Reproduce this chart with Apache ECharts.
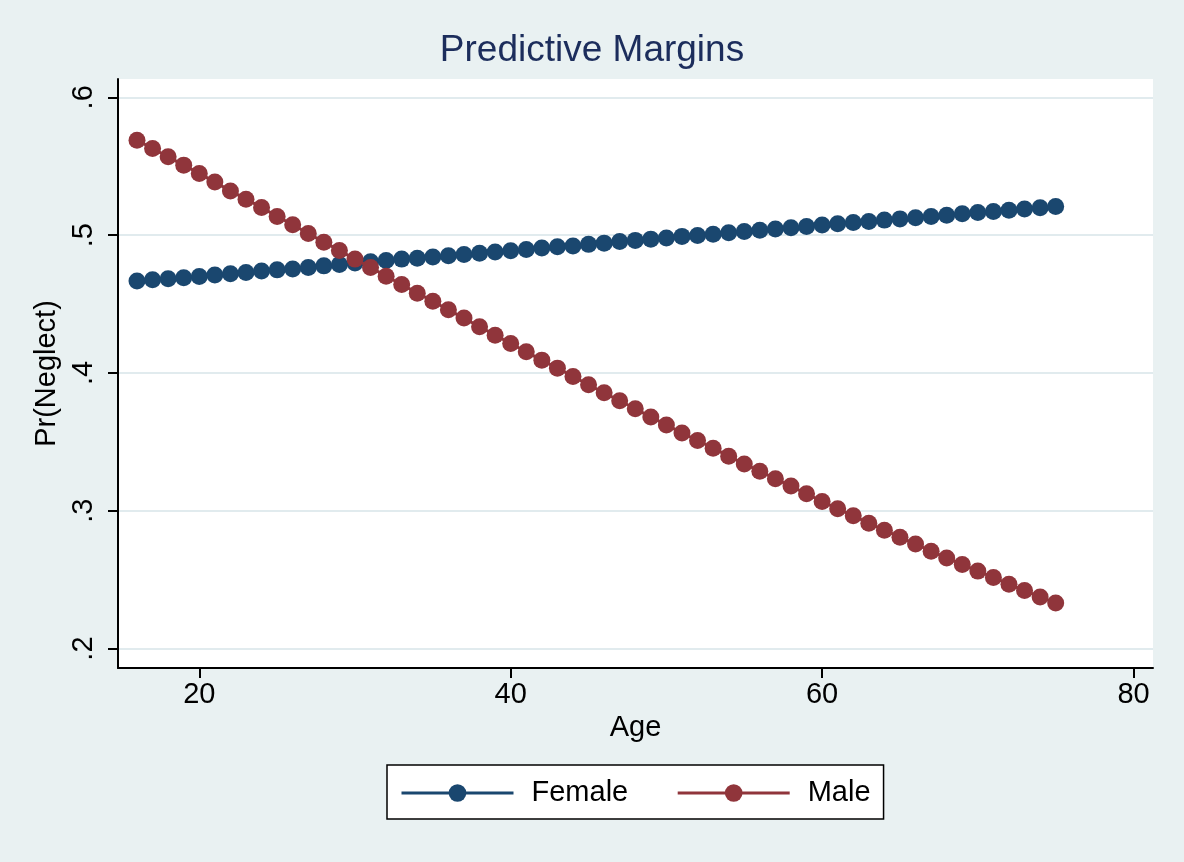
<!DOCTYPE html>
<html>
<head>
<meta charset="utf-8">
<script src="https://cdn.jsdelivr.net/npm/echarts@6/dist/echarts.min.js"></script>
<style>
html,body{margin:0;padding:0;background:#e9f1f2;}
#chart{width:1184px;height:862px;}
</style>
</head>
<body>
<div id="chart"></div>
<script>
const ages = [16,17,18,19,20,21,22,23,24,25,26,27,28,29,30,31,32,33,34,35,
  36,37,38,39,40,41,42,43,44,45,46,47,48,49,50,51,52,53,54,55,
  56,57,58,59,60,61,62,63,64,65,66,67,68,69,70,71,72,73,74,75];

const female = [0.4668,0.4676,0.4683,0.4690,0.4700,0.4710,0.4719,0.4729,0.4739,0.4748,
  0.4755,0.4766,0.4777,0.4787,0.4797,0.4806,0.4816,0.4826,0.4833,0.4841,
  0.4850,0.4860,0.4869,0.4877,0.4886,0.4896,0.4906,0.4915,0.4922,0.4933,
  0.4942,0.4954,0.4962,0.4971,0.4980,0.4991,0.4998,0.5007,0.5017,0.5026,
  0.5036,0.5044,0.5053,0.5063,0.5073,0.5082,0.5092,0.5099,0.5109,0.5118,
  0.5126,0.5136,0.5145,0.5155,0.5165,0.5172,0.5181,0.5189,0.5198,0.5208];

const male = [0.5689,0.5629,0.5568,0.5508,0.5448,0.5385,0.5321,0.5261,0.5201,0.5136,
  0.5075,0.5012,0.4949,0.4889,0.4826,0.4766,0.4702,0.4642,0.4579,0.4520,
  0.4458,0.4398,0.4335,0.4274,0.4214,0.4153,0.4093,0.4035,0.3975,0.3914,
  0.3856,0.3798,0.3740,0.3681,0.3623,0.3565,0.3510,0.3454,0.3396,0.3340,
  0.3287,0.3232,0.3179,0.3123,0.3068,0.3014,0.2963,0.2910,0.2859,0.2808,
  0.2758,0.2707,0.2658,0.2610,0.2562,0.2516,0.2467,0.2421,0.2375,0.2330];

const xTicks = [20,40,60,80];
const yTicks = [0.2,0.3,0.4,0.5,0.6];
const yTickLabels = ['.2','.3','.4','.5','.6'];

const FONT = "'Liberation Sans', Arial, Helvetica, sans-serif";
const chart = echarts.init(document.getElementById('chart'));
chart.setOption({
  backgroundColor: '#e9f1f2',
  animation: false,
  title: {
    text: 'Predictive Margins',
    left: 'center',
    top: 27,
    textStyle: {fontFamily: FONT, fontSize: 37, fontWeight: 'normal', color: '#1c2d5c'}
  },
  grid: {left: 118, right: 31, top: 79, bottom: 194, show: true, backgroundColor: '#ffffff', borderWidth: 0},
  legend: {
    left: 387, top: 765,
    padding: [13, 13, 11, 13],
    backgroundColor: '#ffffff',
    borderColor: '#000000', borderWidth: 1.5, borderRadius: 0,
    itemWidth: 112, itemHeight: 22, itemGap: 48,
    lineStyle: {width: 3},
    textStyle: {fontFamily: FONT, fontSize: 29, color: '#000', lineHeight: 30, padding: [0,0,0,13]},
    data: ['Female','Male']
  },
  xAxis: {
    type: 'value', min: 14.78, max: 81.25,
    name: 'Age', nameLocation: 'middle', nameGap: 44,
    nameTextStyle: {fontFamily: FONT, fontSize: 29, color: '#000'},
    axisLine: {show: true, onZero: false, lineStyle: {color: '#000', width: 2}},
    axisTick: {show: true, length: 10, lineStyle: {color: '#000', width: 2}, customValues: xTicks},
    axisLabel: {fontFamily: FONT, fontSize: 29, color: '#000', margin: 12, customValues: xTicks},
    splitLine: {show: false}
  },
  yAxis: {
    type: 'value', min: 0.1859, max: 0.6133,
    name: 'Pr(Neglect)', nameLocation: 'middle', nameGap: 33, nameRotate: 90,
    nameTextStyle: {fontFamily: FONT, fontSize: 29, color: '#000'},
    axisLine: {show: true, onZero: false, lineStyle: {color: '#000', width: 2}},
    axisTick: {show: true, length: 10, lineStyle: {color: '#000', width: 2}, customValues: yTicks},
    axisLabel: {
      fontFamily: FONT, fontSize: 29, color: '#000', margin: 20, rotate: 90,
      customValues: yTicks,
      formatter: function (v) {
        const i = yTicks.findIndex(t => Math.abs(t - v) < 1e-9);
        return i >= 0 ? yTickLabels[i] : '';
      }
    },
    splitLine: {show: true, lineStyle: {color: '#e1ebee', width: 2}, customValues: yTicks}
  },
  series: [
    {
      name: 'Female', type: 'line',
      data: ages.map((a, i) => [a, female[i]]),
      symbol: 'circle', symbolSize: 17, showSymbol: true,
      lineStyle: {color: '#1a476f', width: 3},
      itemStyle: {color: '#1a476f'},
      z: 2
    },
    {
      name: 'Male', type: 'line',
      data: ages.map((a, i) => [a, male[i]]),
      symbol: 'circle', symbolSize: 17, showSymbol: true,
      lineStyle: {color: '#90353b', width: 3},
      itemStyle: {color: '#90353b'},
      z: 3
    }
  ]
});
</script>
</body>
</html>
